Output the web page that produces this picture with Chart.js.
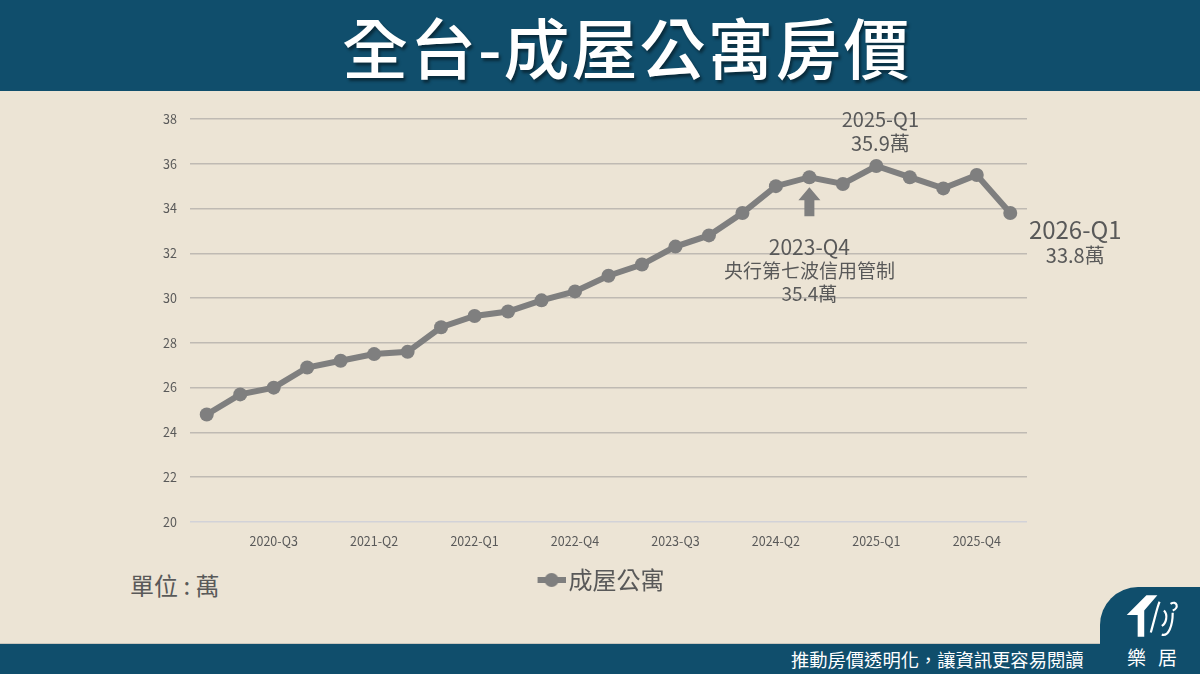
<!DOCTYPE html>
<html lang="zh-Hant">
<head>
    <meta charset="UTF-8">
    <title>全台-成屋公寓房價</title>
    <script src="https://cdn.jsdelivr.net/npm/chart.js"></script>
    <style>
        body {
            margin: 0;
            width: 1200px;
            height: 674px;
            overflow: hidden;
            background: #ece4d5;
            font-family: "Noto Sans CJK TC", "Noto Sans", sans-serif;
            position: relative;
        }
        .header {
            position: absolute;
            left: 0; top: 0;
            width: 1200px; height: 91px;
            background: #104e6c;
        }
        .header h1 {
            position: absolute;
            left: 342px; top: 0;
            margin: 0;
            line-height: 91px;
            font-size: 66px;
            font-weight: 500;
            color: #fff;
            letter-spacing: 2px;
            text-shadow: 2px 3px 3px rgba(0, 0, 0, 0.45);
        }
        .footer {
            position: absolute;
            left: 0; top: 643px;
            width: 1200px; height: 31px;
            background: #104e6c;
            border-top: 1px solid #c9c6bd;
        }
        .footer p {
            position: absolute;
            left: 791px; top: 0;
            margin: 0;
            line-height: 31px;
            font-size: 18.3px;
            color: #fff;
        }
        .logo {
            position: absolute;
            left: 1100px; top: 587px;
            width: 100px; height: 87px;
            background: #104e6c;
            border-top-left-radius: 38px;
        }
        .logo svg {
            position: absolute;
            left: 24px; top: 6px;
        }
        .logo span {
            position: absolute;
            left: 27px; top: 59px;
            font-size: 19px;
            color: #fff;
            letter-spacing: 12px;
            line-height: 22px;
        }
        .unit {
            position: absolute;
            left: 130px; top: 569px;
            font-size: 24px;
            color: #595959;
            line-height: 32px;
        }
        canvas {
            position: absolute;
            left: 0; top: 0;
        }
    </style>
</head>
<body>
    <div class="header"><h1>全台-成屋公寓房價</h1></div>
    <div class="unit">單位 : 萬</div>
    <div class="footer"><p>推動房價透明化，讓資訊更容易閱讀</p></div>
    <div class="logo">
        <svg width="58" height="46" viewBox="0 0 52 42">
            <polygon points="2,20 20,2 30,2 18,16 18,40 12,40 12,20" fill="#fff"/>
            <path d="M24,36 C28,22 30,12 32,8 M34,30 C38,28 40,20 36,16 M42,10 C48,6 50,14 44,16 M44,18 C44,30 40,40 34,38" stroke="#fff" stroke-width="2" fill="none"/>
        </svg>
        <span>樂居</span>
    </div>
    <canvas id="priceChart" width="1200" height="674"></canvas>
    <script>
        const quarters = [
            '2020-Q1', '2020-Q2', '2020-Q3', '2020-Q4',
            '2021-Q1', '2021-Q2', '2021-Q3', '2021-Q4',
            '2022-Q1', '2022-Q2', '2022-Q3', '2022-Q4',
            '2023-Q1', '2023-Q2', '2023-Q3', '2023-Q4',
            '2024-Q1', '2024-Q2', '2024-Q3', '2024-Q4',
            '2025-Q1', '2025-Q2', '2025-Q3', '2025-Q4',
            '2026-Q1'
        ];
        const apartmentPrices = [
            24.8, 25.7, 26.0, 26.9, 27.2, 27.5, 27.6, 28.7,
            29.2, 29.4, 29.9, 30.3, 31.0, 31.5, 32.3, 32.8,
            33.8, 35.0, 35.4, 35.1, 35.9, 35.4, 34.9, 35.5,
            33.8
        ];
        const yTicks = { min: 20, max: 38, step: 2 };

        // callouts: data index + text lines
        const peakNote = { index: 20, lines: ['2025-Q1', '35.9萬'] };
        const lastNote = { index: 24, lines: ['2026-Q1', '33.8萬'] };
        const policyNote = { index: 18, lines: ['2023-Q4', '央行第七波信用管制', '35.4萬'] };

        const lineColor = '#7f7f7f';
        const textColor = '#595959';
        const fontFamily = '"Noto Sans CJK TC", "Noto Sans", sans-serif';

        // legend icon: line with a dot, drawn on the right part so it sits close to the text
        const legendIcon = document.createElement('canvas');
        legendIcon.width = 42;
        legendIcon.height = 16;
        (function () {
            const c = legendIcon.getContext('2d');
            c.strokeStyle = lineColor;
            c.lineWidth = 6;
            c.beginPath();
            c.moveTo(14, 8);
            c.lineTo(42, 8);
            c.stroke();
            c.fillStyle = lineColor;
            c.beginPath();
            c.arc(28, 8, 7, 0, Math.PI * 2);
            c.fill();
        })();

        const calloutPlugin = {
            id: 'callouts',
            afterLayout(chart) {
                // legend sits a little right of the padded box centre
                chart.legend.left += 10;
                chart.legend.right += 10;
            },
            afterDatasetsDraw(chart) {
                const ctx = chart.ctx;
                const xs = chart.scales.x;
                const ys = chart.scales.y;
                const px = i => xs.getPixelForValue(i);
                const py = i => ys.getPixelForValue(apartmentPrices[i]);
                ctx.save();
                ctx.fillStyle = textColor;
                ctx.textAlign = 'center';
                ctx.textBaseline = 'middle';

                // peak
                let x = px(peakNote.index), y = py(peakNote.index);
                ctx.font = '20px ' + fontFamily;
                ctx.fillText(peakNote.lines[0], x + 4, y - 47);
                ctx.fillText(peakNote.lines[1], x + 4, y - 23);

                // last point
                x = px(lastNote.index); y = py(lastNote.index);
                ctx.font = '24px ' + fontFamily;
                ctx.fillText(lastNote.lines[0], x + 65, y + 17);
                ctx.font = '20px ' + fontFamily;
                ctx.fillText(lastNote.lines[1], x + 65, y + 42);

                // policy arrow + text
                x = px(policyNote.index); y = py(policyNote.index);
                ctx.fillStyle = lineColor;
                ctx.beginPath();
                ctx.moveTo(x, y + 10);
                ctx.lineTo(x + 11, y + 23);
                ctx.lineTo(x + 5, y + 23);
                ctx.lineTo(x + 5, y + 39);
                ctx.lineTo(x - 5, y + 39);
                ctx.lineTo(x - 5, y + 23);
                ctx.lineTo(x - 11, y + 23);
                ctx.closePath();
                ctx.fill();
                ctx.fillStyle = textColor;
                ctx.font = '21px ' + fontFamily;
                ctx.fillText(policyNote.lines[0], x, y + 70);
                ctx.font = '19px ' + fontFamily;
                ctx.fillText(policyNote.lines[1], x, y + 94);
                ctx.fillText(policyNote.lines[2], x, y + 117);
                ctx.restore();
            }
        };

        new Chart(document.getElementById('priceChart'), {
            type: 'line',
            data: {
                labels: quarters,
                datasets: [{
                    label: '成屋公寓',
                    data: apartmentPrices,
                    borderColor: lineColor,
                    backgroundColor: lineColor,
                    borderWidth: 6,
                    pointRadius: 7,
                    pointHoverRadius: 7,
                    pointBackgroundColor: lineColor,
                    pointBorderWidth: 0,
                    tension: 0
                }]
            },
            options: {
                responsive: false,
                animation: false,
                layout: {
                    padding: { left: 150, right: 173, top: 119, bottom: 72 }
                },
                scales: {
                    x: {
                        offset: true,
                        grid: { display: false, drawTicks: false },
                        border: { display: false },
                        afterFit(scale) { scale.height = 36; },
                        ticks: {
                            autoSkip: false,
                            maxRotation: 0,
                            padding: 12,
                            color: textColor,
                            font: { family: fontFamily, size: 12.5 },
                            callback: function (value, index) {
                                return (index - 2) % 3 === 0 ? quarters[index] : '';
                            }
                        }
                    },
                    y: {
                        min: yTicks.min,
                        max: yTicks.max,
                        afterFit(scale) { scale.width = 40; },
                        border: { display: false },
                        grid: {
                            drawTicks: false,
                            lineWidth: 1.5,
                            color: ctx => ctx.tick && ctx.tick.value === yTicks.min ? '#d2d2d8' : '#bfbab3'
                        },
                        ticks: {
                            stepSize: yTicks.step,
                            padding: 13,
                            color: textColor,
                            font: { family: fontFamily, size: 12.5 }
                        }
                    }
                },
                plugins: {
                    legend: {
                        position: 'bottom',
                        labels: {
                            usePointStyle: true,
                            pointStyle: legendIcon,
                            padding: 10,
                            color: textColor,
                            font: { family: fontFamily, size: 24 }
                        }
                    },
                    tooltip: { enabled: false }
                }
            },
            plugins: [calloutPlugin]
        });
    </script>
</body>
</html>
